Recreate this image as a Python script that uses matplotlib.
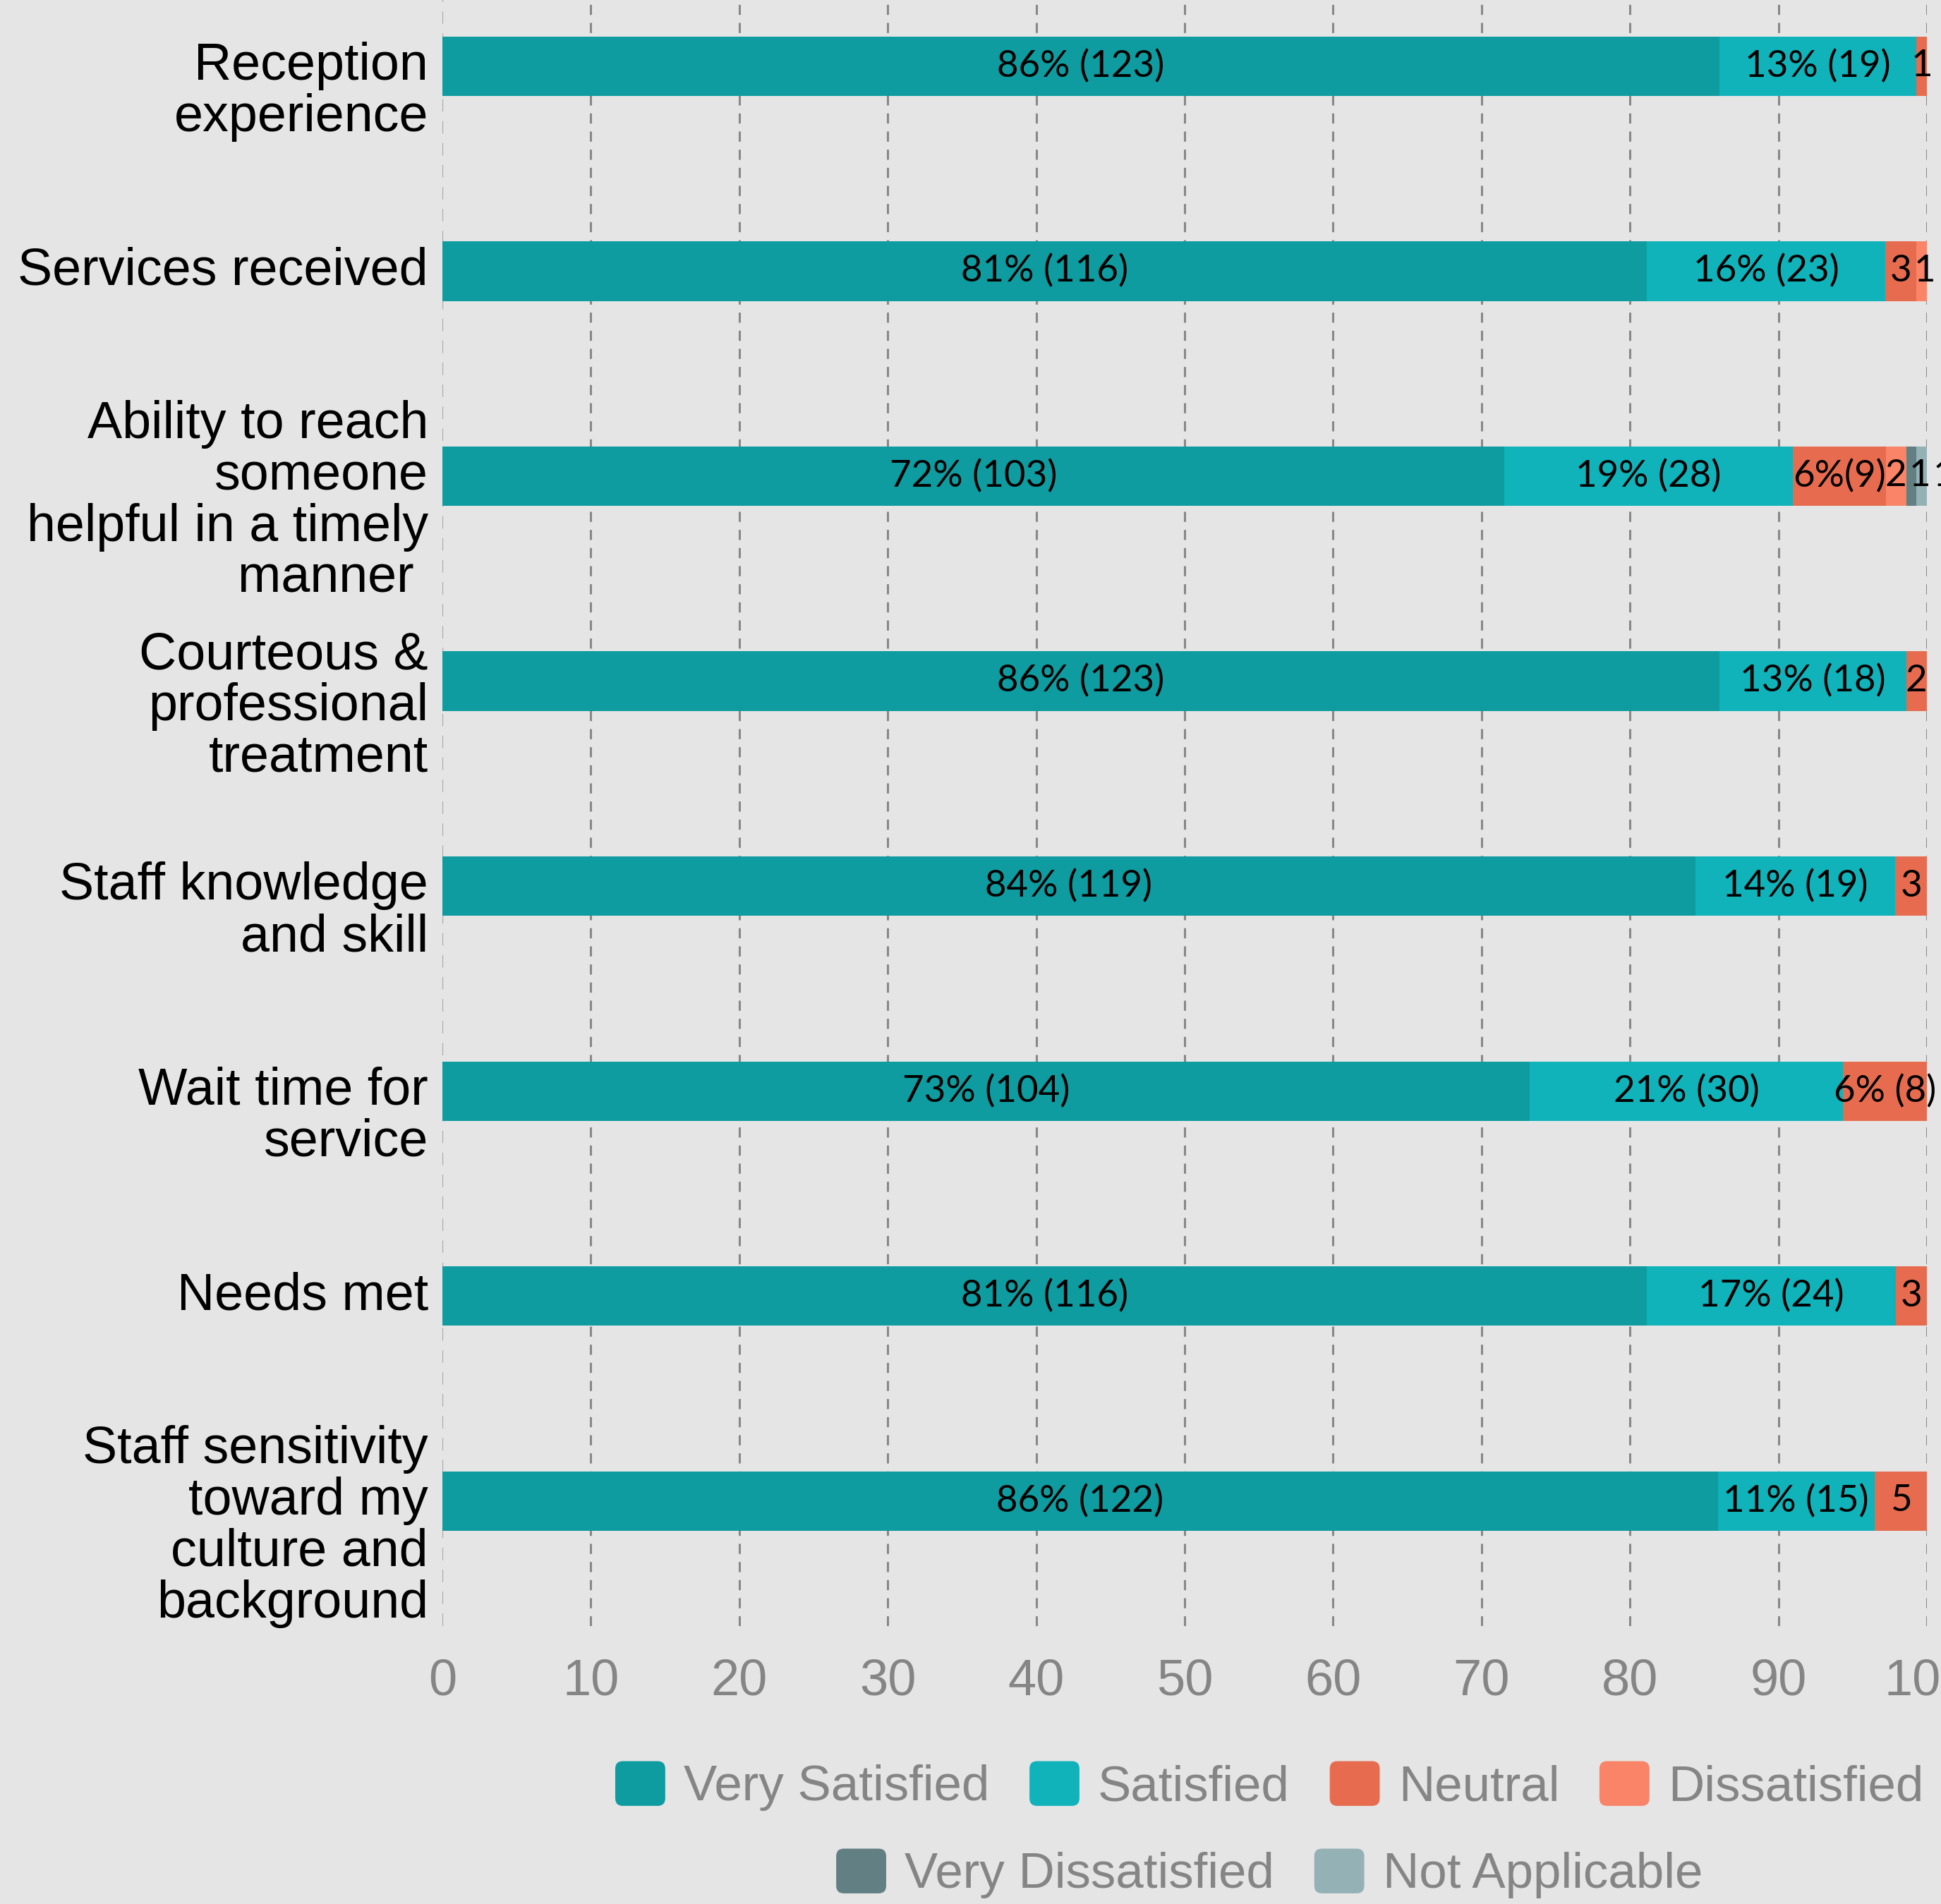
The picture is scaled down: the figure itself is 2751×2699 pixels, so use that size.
import numpy as np
import matplotlib
matplotlib.use("Agg")
import matplotlib.pyplot as plt
from matplotlib.patches import Patch, FancyBboxPatch
from matplotlib.legend_handler import HandlerPatch
import matplotlib.transforms as mtransforms

# survey questions (top to bottom)
categories = [
    "Reception\nexperience",
    "Services received",
    "Ability to reach\nsomeone\nhelpful in a timely\nmanner ",
    "Courteous &\nprofessional\ntreatment",
    "Staff knowledge\nand skill",
    "Wait time for\nservice",
    "Needs met",
    "Staff sensitivity\ntoward my\nculture and\nbackground",
]

# response counts per question
very_satisfied = [123, 116, 103, 123, 119, 104, 116, 122]
satisfied = [19, 23, 28, 18, 19, 30, 24, 15]
neutral = [1, 3, 9, 2, 3, 8, 3, 5]
dissatisfied = [0, 1, 2, 0, 0, 0, 0, 0]
very_dissatisfied = [0, 0, 1, 0, 0, 0, 0, 0]
not_applicable = [0, 0, 1, 0, 0, 0, 0, 0]

# percentages printed on the bars
very_satisfied_pct = [86, 81, 72, 86, 84, 73, 81, 86]
satisfied_pct = [13, 16, 19, 13, 14, 21, 17, 11]
neutral_pct = [1, 2, 6, 1, 2, 6, 2, 4]
dissatisfied_pct = [0, 1, 1, 0, 0, 0, 0, 0]
very_dissatisfied_pct = [0, 0, 1, 0, 0, 0, 0, 0]
not_applicable_pct = [0, 0, 1, 0, 0, 0, 0, 0]

series_names = ["Very Satisfied", "Satisfied", "Neutral", "Dissatisfied",
                "Very Dissatisfied", "Not Applicable"]
colors = ["#0e9ca0", "#10b3ba", "#e76c4f", "#f98467", "#627f83", "#94b2b6"]

counts = np.array([very_satisfied, satisfied, neutral, dissatisfied,
                   very_dissatisfied, not_applicable], dtype=float)
pcts = [very_satisfied_pct, satisfied_pct, neutral_pct, dissatisfied_pct,
        very_dissatisfied_pct, not_applicable_pct]
totals = counts.sum(axis=0)
shares = counts / totals * 100

bg = "#e5e5e5"
grey = "#858585"

fig = plt.figure(figsize=(27.51, 26.99), dpi=100, facecolor=bg)
ax = fig.add_axes([627 / 2751, (2699 - 2305) / 2699, (2731 - 627) / 2751, 2305 / 2699])
ax.set_facecolor(bg)

y = np.arange(len(categories))
left = np.zeros(len(categories))
last_small = np.full(len(categories), -10.0)
for i, name in enumerate(series_names):
    ax.barh(y, shares[i], left=left, height=0.29, color=colors[i], label=name, zorder=2)
    for j in range(len(categories)):
        n = int(counts[i, j])
        if n == 0:
            continue
        x = left[j] + shares[i, j] / 2
        if pcts[i][j] >= 5:
            # narrow segment followed by more segments -> compact label
            sep = "" if (pcts[i][j] < 10 and left[j] + shares[i, j] < 99) else " "
            txt = f"{pcts[i][j]}%{sep}({n})"
        else:
            txt = str(n)
            x = max(x, last_small[j] + 1.6)
            last_small[j] = x
        ax.text(x, y[j], txt, ha="center", va="center",
                fontsize=38, family=["Lato", "DejaVu Sans"], color="black", zorder=3)
    left += shares[i]

ax.set_xlim(0, 100)
ax.set_ylim(7.61, -0.323)
ax.set_xticks(np.arange(0, 101, 10))
ax.set_yticks(y)
ax.set_yticklabels([])
ax.tick_params(axis="y", length=0)
ax.tick_params(axis="x", length=0, pad=33, labelsize=52, labelcolor=grey)
for lab in ax.get_xticklabels():
    lab.set_family("Liberation Sans")

# category labels, multi-line ones sit a little lower than their bar
trans_y = mtransforms.blended_transform_factory(ax.transAxes, ax.transData)
for yy, cat in zip(y, categories):
    shift = 0 if "\n" not in cat else 26
    off = mtransforms.ScaledTranslation(-20 / 100, -shift / 72, fig.dpi_scale_trans)
    ax.text(0, yy, cat, transform=trans_y + off, ha="right", va="center",
            fontsize=53, family="Liberation Sans", color="black",
            linespacing=1.07, multialignment="right")

ax.grid(axis="x", color="#888888", linestyle=(0, (4.7, 3.7)), linewidth=2.2, zorder=1)
ax.xaxis.get_major_ticks()[0].gridline.set_visible(False)
ax.axvline(0, color="#aaaaaa", linestyle=(0, (8, 6)), linewidth=1.6, zorder=1)
for s in ax.spines.values():
    s.set_visible(False)


class RoundHandle(HandlerPatch):
    def create_artists(self, legend, orig_handle, xdescent, ydescent, width,
                       height, fontsize, trans):
        p = FancyBboxPatch((-xdescent, -ydescent), width, height,
                           boxstyle=f"round,pad=0,rounding_size={0.15 * width}",
                           facecolor=orig_handle.get_facecolor(),
                           edgecolor="none", transform=trans)
        return [p]


handles = [Patch(facecolor=c) for c in colors]
leg_kw = dict(frameon=False, labelcolor=grey, handlelength=1.0,
              handleheight=1.0, handletextpad=0.37, columnspacing=0.8,
              borderpad=0, borderaxespad=0, loc="center",
              prop={"family": "Liberation Sans", "size": 51},
              handler_map={Patch: RoundHandle()})
leg1 = fig.legend(handles[:4], series_names[:4], ncol=4,
                  bbox_to_anchor=(0.654, (2699 - 2532) / 2699), **leg_kw)
leg2 = fig.legend(handles[4:], series_names[4:], ncol=2,
                  bbox_to_anchor=(0.654, (2699 - 2656) / 2699), **leg_kw)

fig.savefig("out.png", dpi=100, facecolor=bg)
